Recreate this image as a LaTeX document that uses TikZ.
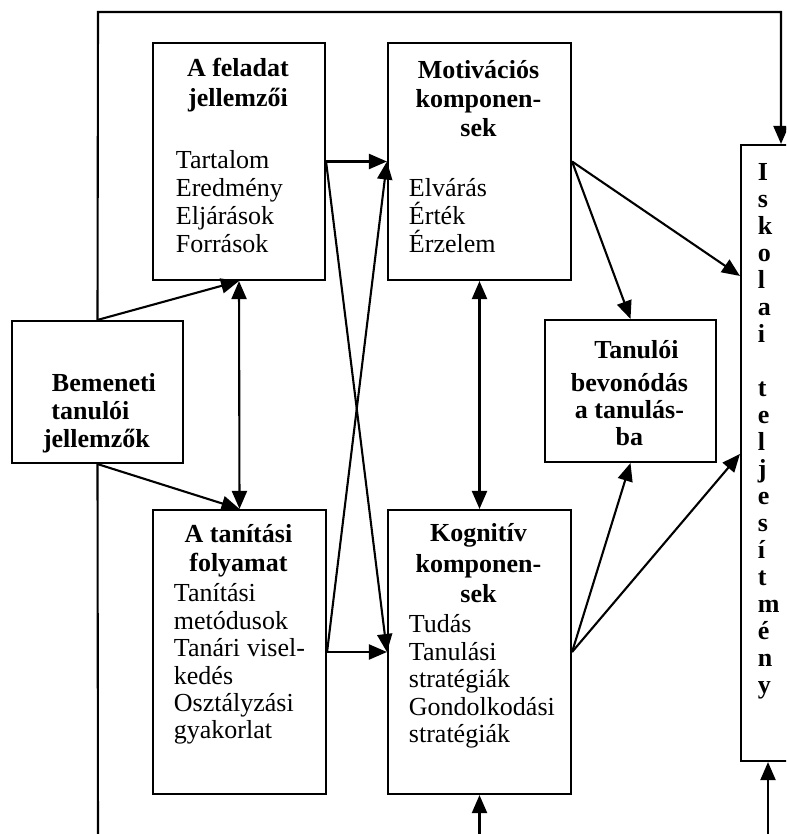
\documentclass[tikz,border=0pt]{standalone}
\usepackage{fontspec}
\setmainfont{Liberation Serif}
\usetikzlibrary{arrows.meta,calc}
% top-aligned text block: width, baseline skip, contents
\newcommand{\blk}[3]{\parbox[t]{#1}{\fontsize{26}{#2}\selectfont\lineskiplimit=-100pt\lineskip=0pt #3}}

\begin{document}
\begin{tikzpicture}[x=1pt,y=-1pt,line width=2.1pt,line join=miter,
  box/.style={draw,rectangle,inner sep=0pt},
  txt/.style={inner sep=0pt,outer sep=0pt,anchor=base west},
  arr/.style={-{Triangle[length=18pt,width=15pt]}},
  darr/.style={{Triangle[length=18pt,width=15pt]}-{Triangle[length=18pt,width=15pt]}}]

\useasboundingbox (0,0) rectangle (786,834);
\clip (0,0) rectangle (786,834);

% boxes
\node[box,minimum width=172,minimum height=237] (fel) at (239,161.5) {};
\node[box,minimum width=183,minimum height=237] (mot) at (479.5,161.5) {};
\node[box,minimum width=171,minimum height=142] (bem) at (97.5,392) {};
\node[box,minimum width=171,minimum height=142] (tnl) at (630.5,391) {};
\node[box,minimum width=173,minimum height=284] (tan) at (239.5,652) {};
\node[box,minimum width=183,minimum height=284] (kog) at (479.5,652) {};
\node[box,minimum width=79,minimum height=616] (isk) at (780.5,453) {};

% texts
\node[txt] at ($(fel.north west)+(0,35)$)
  {\blk{172pt}{29.5}{\centering\bfseries A feladat\\jellemzői}};
\node[txt] at ($(fel.north west)+(24,127)$)
  {\blk{140pt}{28}{Tartalom\\Eredmény\\Eljárások\\Források}};

\node[txt] at ($(mot.north west)+(0,37)$)
  {\blk{183pt}{29}{\centering\bfseries Motivációs\\komponen-\\sek}};
\node[txt] at ($(mot.north west)+(22,155)$)
  {\blk{150pt}{28}{Elvárás\\Érték\\Érzelem}};

\node[txt] at ($(bem.north west)+(0,72)$)
  {\blk{171pt}{28}{\centering\bfseries\leavevmode\kern15pt Bemeneti\\tanulói\kern12pt\\jellemzők}};

\node[txt] at ($(tnl.north west)+(0,40)$)
  {\blk{171pt}{26.7}{\centering\bfseries\leavevmode\kern14pt Tanulói\\\kern6pt bevonódás\\a tanulás-\\ba}};

\node[txt] at ($(tan.north west)+(0,34)$)
  {\blk{173pt}{29}{\centering\bfseries A tanítási\\folyamat}};
\node[txt] at ($(tan.north west)+(22,93)$)
  {\blk{140pt}{27.4}{Tanítási\\metódusok\\\hbox to 131pt{Tanári\hfill visel-}\\kedés\\Osztályzási\\gyakorlat}};

\node[txt] at ($(kog.north west)+(0,33)$)
  {\blk{183pt}{30.5}{\centering\bfseries Kognitív\\komponen-\\sek}};
\node[txt] at ($(kog.north west)+(22,124)$)
  {\blk{155pt}{27.5}{Tudás\\Tanulási\\stratégiák\\Gondolkodási\\stratégiák}};

\node[txt] at ($(isk.north west)+(18,37)$)
  {\blk{30pt}{27}{\bfseries I\\s\\k\\o\\l\\a\\i\\\mbox{}\\t\\e\\l\\j\\e\\s\\í\\t\\m\\é\\n\\y}};

% outer feedback loop
\coordinate (tl) at (98,12);
\coordinate (tr) at (781,12);
\coordinate (bl) at (98,840);
\draw[arr] (bem.north) -- (tl) -- (tr) -- (tr |- isk.north);
\draw (bem.south) -- (bl);

% connectors
\draw[arr] (bem.north) -- (fel.south);
\draw[arr] (bem.south) -- (tan.north);
\draw[darr] (fel.south) -- (tan.north);
\draw[arr] (fel.east) -- (mot.west);
\draw[arr] (fel.east) -- (kog.west);
\draw[arr] (tan.east) -- (kog.west);
\draw[arr] (tan.east) -- (mot.west);
\draw[darr] (mot.south) -- (kog.north);
\draw[arr] (mot.east) -- (tnl.north);
\draw[arr] (mot.east) -- ([yshift=-132pt]isk.north west);
\draw[arr] (kog.east) -- (tnl.south);
\draw[arr] (kog.east) -- ([yshift=-310pt]isk.north west);

% inputs from below
\coordinate (kb) at (479.5,840);
\coordinate (ib) at (768,840);
\draw[arr] (kb) -- (kog.south);
\draw[arr] (ib) -- (ib |- isk.south);
\end{tikzpicture}
\end{document}
